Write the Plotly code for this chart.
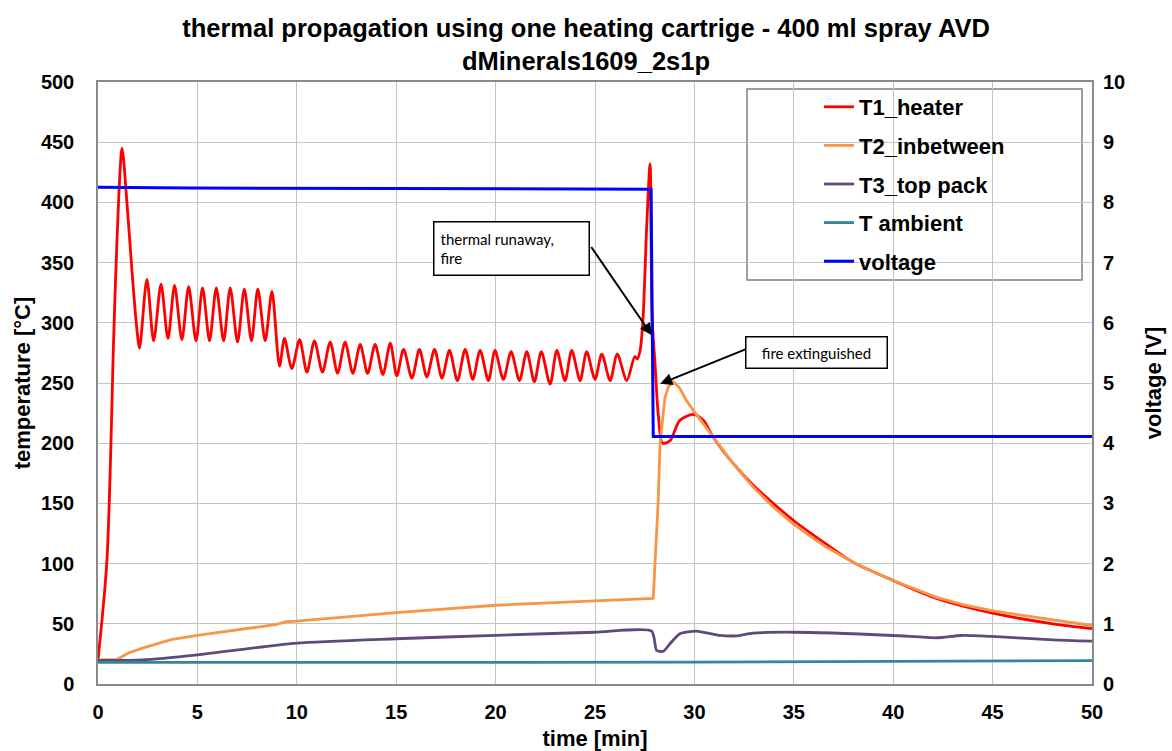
import plotly.graph_objects as go

# ---------------- data ----------------
t1_time = [0, 0.45, 0.79, 0.96, 1.21, 1.46, 1.71, 1.96, 2.09,
           2.46, 2.80, 3.17, 3.52, 3.85, 4.22, 4.56, 4.93, 5.26, 5.61, 5.95, 6.32,
           6.65, 7.02, 7.36, 7.72, 8.04, 8.41, 8.75,
           9.13, 9.38, 9.75, 10.14, 10.51, 10.89, 11.29, 11.68, 12.05, 12.43, 12.82,
           13.19, 13.56, 13.94, 14.33, 14.70, 15.03, 15.37, 15.79, 16.17, 16.54,
           16.93, 17.30, 17.68, 18.08, 18.47, 18.85, 19.22, 19.64, 19.97, 20.39,
           20.78, 21.20, 21.57, 21.95, 22.30, 22.74, 23.08, 23.49, 23.83, 24.25,
           24.58, 25.00, 25.34, 25.76, 26.12, 26.60,
           27.00, 27.12, 27.27, 27.42, 27.60, 27.77, 27.87, 28.02, 28.19, 28.40,
           28.77, 29.27, 29.95, 30.45, 30.95, 31.96, 32.96, 33.97, 34.97, 36.65,
           38.0, 40.0, 42.18, 44.95, 48.04, 50.0]
t1_val = [20, 103, 288, 371, 445, 399, 343, 294, 279,
          336, 285, 332, 287, 331, 286, 330, 285, 329, 285, 329, 285,
          329, 284, 328, 285, 328, 285, 326,
          264, 287, 262, 286, 259, 285, 259, 284, 258, 284, 258,
          282, 258, 282, 257, 283, 256, 278, 254, 278, 255,
          278, 254, 277, 252, 278, 253, 277, 252, 277, 253,
          276, 252, 276, 251, 276, 249, 277, 252, 277, 252,
          276, 253, 274, 252, 274, 252,
          272, 270, 277, 305, 380, 432, 305, 266, 222, 200,
          202, 219, 224, 219, 205, 183, 165, 150, 136, 116,
          101, 86, 71, 59, 50, 46]

t2_time = [0, 0.97, 1.5, 2.24, 3.0, 3.68, 5.0, 7.65, 9.0, 9.46, 10.0, 15.0, 20.0, 25.0,
           27.93, 28.05, 28.18, 28.27, 28.52, 28.70, 28.94, 29.25, 29.60, 30.0, 30.45,
           31.04, 31.50, 31.96, 32.46, 32.96, 33.97, 34.97, 35.80, 36.65, 37.99, 39.0,
           40.0, 41.0, 42.18, 43.5, 44.95, 46.5, 48.04, 50.0]
t2_val = [20, 20.5, 25.5, 29.8, 33.5, 36.8, 40.4, 46.6, 49.5, 51.7, 52.2, 59.3, 65.4, 69.1,
          71, 110, 152, 199.5, 238, 247, 251, 246, 235.5, 226, 216,
          203.6, 193, 182.9, 173, 163.5, 147, 133, 123, 113.6, 101.2, 93,
          86, 79.5, 72, 66, 61, 57, 53.3, 48.6]

t3_time = [0, 2.24, 5.0, 10.0, 15.0, 20.0, 25.0, 27.85, 28.10, 28.44, 28.77,
           29.27, 30.10, 31.29, 32.10, 32.96, 34.97, 40.0, 42.2, 43.4, 44.95,
           48.04, 50.0]
t3_val = [19.5, 20, 24.2, 34, 37.6, 40.4, 43, 43.9, 27.8, 27.2, 33.4,
          41.7, 43.9, 40.3, 40, 42.2, 43, 40.3, 38.4, 40.3, 39.5,
          36.7, 35.6]

ta_time = [0, 10, 20, 30, 40, 45, 50]
ta_val = [18, 17.8, 17.9, 18.1, 18.6, 19.2, 19.4]

volt_time = [0, 4.6, 4.7, 15.0, 27.82, 27.93, 50.0]
volt_val = [8.25, 8.25, 8.24, 8.23, 8.22, 4.11, 4.11]

series_names = ["T1_heater", "T2_inbetween", "T3_top pack", "T ambient", "voltage"]
series_colors = ["#ff0000", "#f79646", "#604a7b", "#31859c", "#0000ff"]

title_text = ("thermal propagation using one heating cartrige - 400 ml spray AVD"
              "<br>dMinerals1609_2s1p")

# ---------------- figure ----------------
FONT = "Liberation Sans, Arial, sans-serif"
W, H = 1172, 751
L, R, T, B = 98, 80, 82, 67
PW, PH = W - L - R, H - T - B

fig = go.Figure()
fig.add_trace(go.Scatter(x=t1_time, y=t1_val, name=series_names[0], mode="lines",
                         line=dict(color=series_colors[0], width=2.8, shape="spline", smoothing=0.8),
                         legendgroup="g1"))
fig.add_trace(go.Scatter(x=t2_time, y=t2_val, name=series_names[1], mode="lines",
                         line=dict(color=series_colors[1], width=2.8),
                         legendgroup="g2"))
fig.add_trace(go.Scatter(x=t3_time, y=t3_val, name=series_names[2], mode="lines",
                         line=dict(color=series_colors[2], width=2.8, shape="spline", smoothing=0.6),
                         legendgroup="g3"))
fig.add_trace(go.Scatter(x=ta_time, y=ta_val, name=series_names[3], mode="lines",
                         line=dict(color=series_colors[3], width=2.8),
                         legendgroup="g4"))
fig.add_trace(go.Scatter(x=volt_time, y=volt_val, name=series_names[4], mode="lines",
                         line=dict(color=series_colors[4], width=3),
                         yaxis="y2", legendgroup="g5"))

grid = "#c4c4c4"
axline = "#8a8a8a"
tickfont = dict(family=FONT, size=20, color="black", weight="bold")
titlefont = dict(family=FONT, size=22, color="black", weight="bold")

fig.update_layout(
    width=W, height=H,
    margin=dict(l=L, r=R, t=T, b=B, pad=0),
    paper_bgcolor="white", plot_bgcolor="white",
    title=dict(text=title_text, x=0.5, xref="container", xanchor="center",
               y=1 - 37 / H, yref="container", yanchor="middle",
               font=dict(family=FONT, size=25.5, color="black", weight="bold")),
    xaxis=dict(range=[0, 50], dtick=5, tick0=0, showgrid=True, gridcolor=grid, gridwidth=1,
               showline=True, linecolor=axline, linewidth=1.5, mirror=True, zeroline=False,
               ticks="", tickfont=tickfont, ticklabelstandoff=9, automargin=False,
               title=dict(text="time [min]", font=titlefont, standoff=13)),
    yaxis=dict(range=[0, 500], dtick=50, tick0=0, showgrid=True, gridcolor=grid, gridwidth=1,
               showline=True, linecolor=axline, linewidth=1.5, mirror=True, zeroline=False,
               ticks="", tickfont=tickfont, ticklabelstandoff=18, automargin=False,
               title=dict(text="temperature [°C]", font=titlefont, standoff=4)),
    yaxis2=dict(range=[0, 10], dtick=1, tick0=0, overlaying="y", side="right",
                showgrid=False, showline=False, zeroline=False, ticks="",
                tickfont=tickfont, ticklabelstandoff=10, automargin=False,
                title=dict(text="voltage [V]", font=titlefont, standoff=21)),
    legend=dict(x=(819 - L) / PW, y=(H - B - 86) / PH,
                xanchor="left", yanchor="top",
                bgcolor="rgba(0,0,0,0)", borderwidth=0,
                font=dict(family=FONT, size=22, color="black", weight="bold"),
                tracegroupgap=7, traceorder="grouped"),
    showlegend=True,
)

# legend frame
fig.add_shape(type="rect", xref="paper", yref="paper",
              x0=(747 - L) / PW, x1=(1082 - L) / PW,
              y0=(H - B - 280) / PH, y1=(H - B - 89) / PH,
              line=dict(color="#7f7f7f", width=1.5), fillcolor="white", layer="below")

# annotation boxes
ann_font = dict(family="Lato, Open Sans, sans-serif", size=15, color="black")
fig.add_annotation(x=20.81, y=362.1, xref="x", yref="y", showarrow=False,
                   text="thermal runaway,<br>fire", align="left", font=ann_font,
                   bgcolor="white", bordercolor="black", borderwidth=1.5, borderpad=6,
                   width=142, height=40, valign="middle")
fig.add_annotation(x=36.15, y=275.7, xref="x", yref="y", showarrow=False,
                   text="fire extinguished", align="center", font=ann_font,
                   bgcolor="white", bordercolor="black", borderwidth=1.5, borderpad=3,
                   width=134, height=24, valign="middle")
# arrows
fig.add_annotation(x=27.86, y=289.6, ax=24.76, ay=364.2, xref="x", yref="y",
                   axref="x", ayref="y", text="", showarrow=True, arrowhead=2,
                   arrowsize=1.2, arrowwidth=2, arrowcolor="black", standoff=0, startstandoff=0)
fig.add_annotation(x=28.28, y=249.3, ax=32.64, ay=278.4, xref="x", yref="y",
                   axref="x", ayref="y", text="", showarrow=True, arrowhead=2,
                   arrowsize=1.2, arrowwidth=2, arrowcolor="black", standoff=0, startstandoff=0)

fig.write_html("out.html")
